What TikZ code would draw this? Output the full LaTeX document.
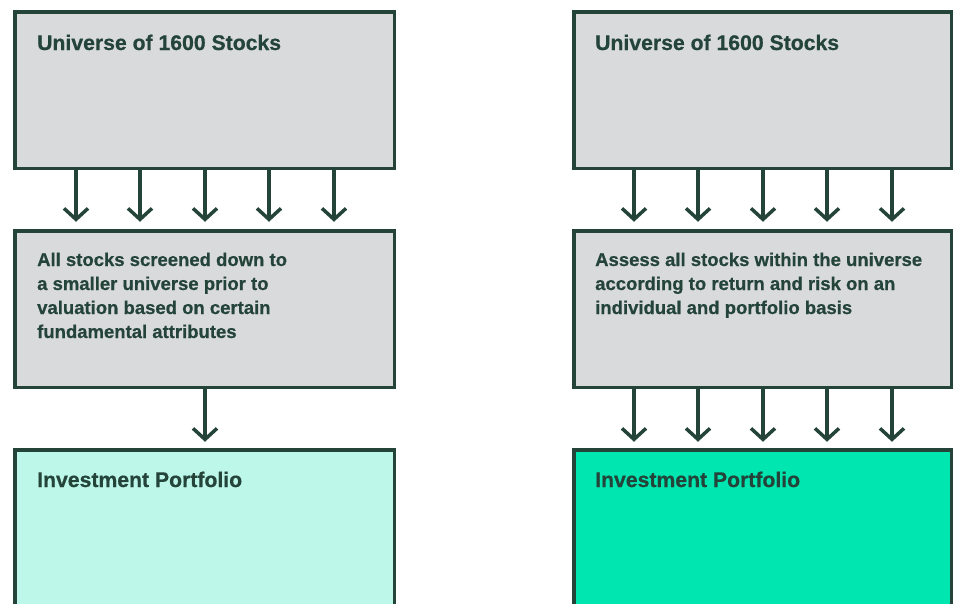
\documentclass[tikz,border=0pt]{standalone}
\usepackage{fontspec}
\setmainfont{Liberation Sans}[BoldFeatures={FakeBold=0.6}]
\usetikzlibrary{arrows.meta}
\definecolor{ink}{HTML}{24443A}
\definecolor{boxgray}{HTML}{D9DADC}
\definecolor{mint}{HTML}{BDF7E9}
\definecolor{brightgreen}{HTML}{00E6B1}
\tikzset{
  box/.style={draw=ink, line width=3.5pt, outer sep=0pt, inner sep=0pt, anchor=north west},
  arr/.style={draw=ink, line width=3.5pt, -{Straight Barb[length=11pt,width=24pt]}},
  title/.style={anchor=base west, inner sep=0pt, text=ink, font=\fontsize{21.2}{24}\selectfont\bfseries},
  body/.style={anchor=base west, inner sep=0pt, text=ink, font=\fontsize{18.5}{24}\selectfont\bfseries},
}
\begin{document}
\begin{tikzpicture}[x=1pt,y=-1pt]
\clip (0,0) rectangle (953,603);
% left column
\node[box, fill=boxgray, minimum width=379.5pt, minimum height=156.5pt] (lt) at (14.75,11.75) {};
\node[box, fill=boxgray, minimum width=379.5pt, minimum height=156.5pt] (lm) at (14.75,230.75) {};
\node[box, fill=mint, minimum width=379.5pt, minimum height=200pt] (lb) at (14.75,449.75) {};
% right column
\node[box, fill=boxgray, minimum width=377.5pt, minimum height=156.5pt] (rt) at (573.75,11.75) {};
\node[box, fill=boxgray, minimum width=377.5pt, minimum height=156.5pt] (rm) at (573.75,230.75) {};
\node[box, fill=brightgreen, minimum width=377.5pt, minimum height=200pt] (rb) at (573.75,449.75) {};
% texts
\node[title] (ltt) at (37,50) {Universe of 1600 Stocks};
\node[title] (rtt) at (595,50) {Universe of 1600 Stocks};
\node[body] (lmt) at (37,266) {\begin{tabular}[t]{@{}l@{}}All stocks screened down to\\a smaller universe prior to\\valuation based on certain\\fundamental attributes\end{tabular}};
\node[body] (rmt) at (595,266) {\begin{tabular}[t]{@{}l@{}}Assess all stocks within the universe\\according to return and risk on an\\individual and portfolio basis\end{tabular}};
\node[title] (lbt) at (37,487) {Investment Portfolio};
\node[title] (rbt) at (595,487) {Investment Portfolio};
% arrows top -> middle
\foreach \x in {76,140,205,269,334} {
  \draw[arr] (lt.south -| \x,0) -- ([yshift=9pt]lm.north -| \x,0);
}
\foreach \x in {634,698,763,827,892} {
  \draw[arr] (rt.south -| \x,0) -- ([yshift=9pt]rm.north -| \x,0);
  \draw[arr] (rm.south -| \x,0) -- ([yshift=8pt]rb.north -| \x,0);
}
\draw[arr] (lm.south -| 205,0) -- ([yshift=8pt]lb.north -| 205,0);
\end{tikzpicture}
\end{document}
